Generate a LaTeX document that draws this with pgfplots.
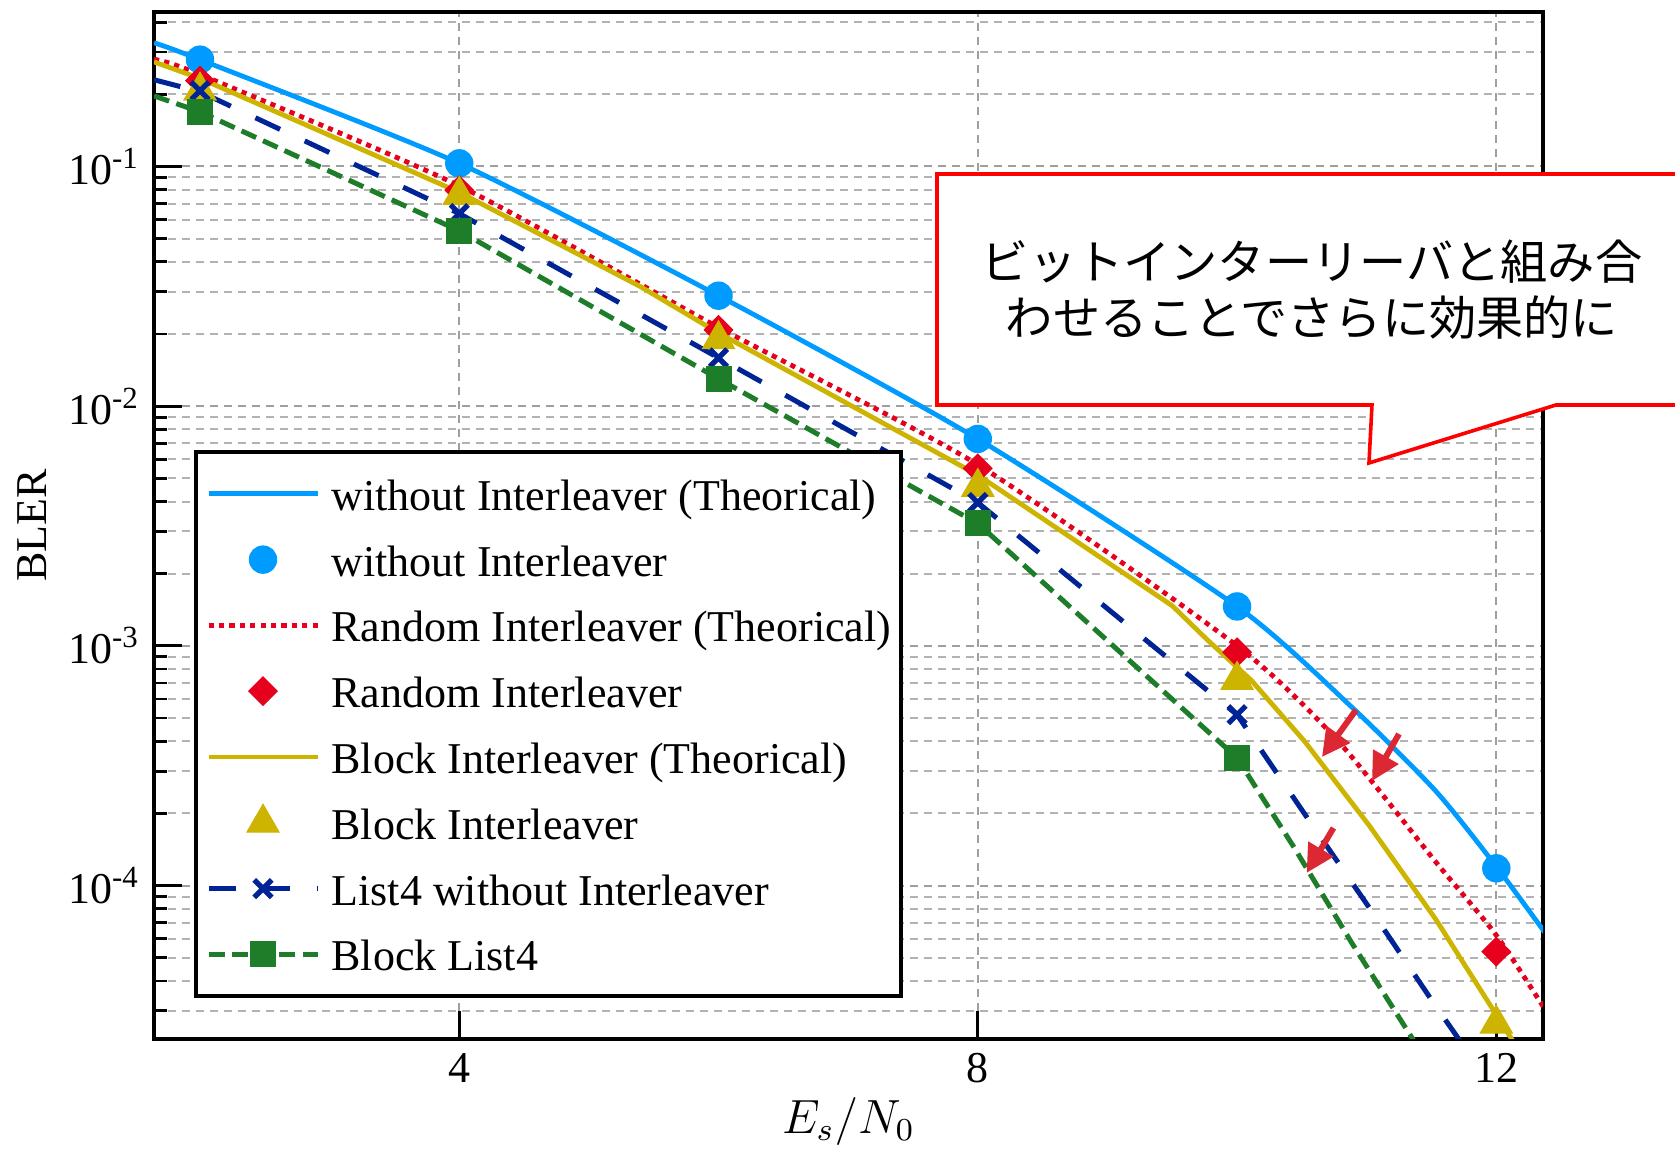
\documentclass[border=0pt]{standalone}
\usepackage{pgfplots}
\pgfplotsset{compat=1.18}
\usepackage{fontspec}
\setmainfont{Liberation Serif}
\newfontfamily\jpfont{Noto Sans CJK JP}
\usetikzlibrary{arrows.meta}

\definecolor{cblue}{RGB}{0,155,255}
\definecolor{cred}{RGB}{230,0,30}
\definecolor{cyel}{RGB}{205,180,0}
\definecolor{cnavy}{RGB}{0,35,150}
\definecolor{cgreen}{RGB}{30,125,40}
\definecolor{carrow}{RGB}{220,40,50}

\pgfplotsset{
  limg/.style={legend image code/.code={\draw[mark=none] (0pt,0pt) -- (27.25pt,0pt);}},
  mimg/.style={legend image code/.code={\draw plot coordinates {(13.625pt,0pt)};}},
}

\begin{document}
\begin{tikzpicture}
\begin{axis}[
  scale only axis, width=347.25pt, height=256.75pt,
  xmin=1.645, xmax=12.36,
  ymode=log, log basis y=10, ymin=2.29e-5, ymax=0.441,
  xtick={4,8,12},
  ytick={1e-4,1e-3,1e-2,1e-1},
  yticklabels={10\textsuperscript{-4},10\textsuperscript{-3},10\textsuperscript{-2},10\textsuperscript{-1}},
  minor ytick={3e-5,4e-5,5e-5,6e-5,7e-5,8e-5,9e-5,
    2e-4,3e-4,4e-4,5e-4,6e-4,7e-4,8e-4,9e-4,
    2e-3,3e-3,4e-3,5e-3,6e-3,7e-3,8e-3,9e-3,
    2e-2,3e-2,4e-2,5e-2,6e-2,7e-2,8e-2,9e-2,
    2e-1,3e-1,4e-1},
  grid=both,
  major grid style={gray!75, line width=0.5pt, dash pattern=on 2pt off 1.5pt},
  minor grid style={gray!60, line width=0.5pt, dash pattern=on 2pt off 1.5pt},
  tick align=inside, xtick pos=bottom, ytick pos=left,
  major tick length=7pt, minor tick length=3.3pt,
  every tick/.style={black, line width=0.7pt},
  axis line style={line width=1.1pt},
  tick label style={font=\fontsize{11}{13}\selectfont},
  /pgf/number format/assume math mode=true,
  xlabel={$E_s/N_0$},
  ylabel={BLER},
  xlabel style={at={(axis description cs:0.5,-0.0804)}, anchor=center, font=\fontsize{12}{14}\selectfont},
  ylabel style={at={(axis description cs:-0.0878,0.5)}, anchor=center, font=\fontsize{11}{13}\selectfont},
  legend style={at={(axis description cs:0.0291,0.0395)}, anchor=south west,
    draw=black, line width=1pt, fill=white,
    font=\fontsize{11}{13}\selectfont,
    inner xsep=2.4pt, inner ysep=4pt, row sep=3.45pt, column sep=2.9pt,
    nodes={inner sep=0pt, text height=10.6pt, text depth=2.4pt}},
  legend cell align=left,
]
\coordinate (O) at (rel axis cs:0,0);

% without Interleaver (Theorical)
\addplot[cblue, line width=1.2pt, smooth, tension=0.4, limg] coordinates {
 (1.645,0.328) (2,0.279) (4,0.103) (6,0.0289) (8,0.0073)
 (10,0.00146) (10.885,5.55e-4) (11.535,2.47e-4) (12,1.2e-4) (12.4,6.1e-5)};
\addlegendentry{without Interleaver (Theorical)}
% without Interleaver
\addplot[only marks, mark=*, mark size=3.4pt, color=cblue, mark options={line width=0.3pt}, mimg] coordinates {
 (2,0.279) (4,0.103) (6,0.0289) (8,0.0073) (10,0.00146) (12,1.18e-4)};
\addlegendentry{without Interleaver}
% Random Interleaver (Theorical)
\addplot[cred, line width=1.2pt, dash pattern=on 1.3pt off 1.3pt, smooth, tension=0.4, limg] coordinates {
 (1.645,0.280) (2,0.242) (4,0.083) (6,0.0213) (8,0.0057)
 (10,0.00100) (10.78,4.0e-4) (11.535,1.25e-4) (12,6.2e-5) (12.4,2.9e-5)};
\addlegendentry{Random Interleaver (Theorical)}
% Random Interleaver
\addplot[only marks, mark=square*, mark size=2.5pt, color=cred, mark options={rotate=45, line width=0.3pt}, mimg] coordinates {
 (2,0.228) (4,0.0797) (6,0.0208) (8,0.0055) (10,9.4e-4) (12,5.3e-5)};
\addlegendentry{Random Interleaver}
% Block Interleaver (Theorical)
\addplot[cyel, line width=1.2pt, limg] coordinates {
 (1.645,0.273) (2,0.233) (4,0.078) (5.394,0.0316) (6,0.0202) (8,0.00516)
 (9.5,1.47e-3) (9.77,1.06e-3) (10.11,7.18e-4) (10.52,4.0e-4) (11.016,1.79e-4) (11.535,7.2e-5) (12.2,1.95e-5)};
\addlegendentry{Block Interleaver (Theorical)}
% Block Interleaver
\addplot[only marks, mark=triangle*, mark size=4.6pt, color=cyel, mark options={line width=0.3pt}, mimg] coordinates {
 (2,0.207) (4,0.076) (6,0.019) (8,0.0046) (10,7.2e-4) (12,2.65e-5)};
\addlegendentry{Block Interleaver}
% List4 line
\addplot[cnavy, line width=1.25pt, dash pattern=on 6.8pt off 6.8pt, forget plot] coordinates {
 (1.645,0.23) (2,0.205) (4,0.0636) (6,0.0159) (8,0.00396) (10,5.16e-4)
 (10.51,2.03e-4) (11.054,7.6e-5) (11.529,3.16e-5) (11.8,1.95e-5)};
\addplot[only marks, mark=x, mark size=3.1pt, color=cnavy, mark options={line width=1.3pt, solid},
  legend image code/.code={
   \draw[mark=none, cnavy, line width=1.25pt, dash pattern=on 6.8pt off 6.8pt] (0pt,0pt) -- (27.25pt,0pt);
   \draw plot coordinates {(13.625pt,0pt)};}] coordinates {
 (2,0.207) (4,0.0636) (6,0.0159) (8,0.00396) (10,5.16e-4)};
\addlegendentry{List4 without Interleaver}
% Block List4 line
\addplot[cgreen, line width=1.25pt, dash pattern=on 4pt off 1.9pt, forget plot] coordinates {
 (1.645,0.197) (2,0.169) (4,0.0539) (6,0.0130) (8,0.00324) (10,3.41e-4)
 (10.444,1.43e-4) (10.886,5.75e-5) (11.45,1.9e-5)};
\addplot[only marks, mark=square*, mark size=3.1pt, color=cgreen, mark options={line width=0.3pt, solid},
  legend image code/.code={
   \draw[mark=none, cgreen, line width=1.25pt, dash pattern=on 4pt off 1.9pt] (0pt,0pt) -- (27.25pt,0pt);
   \draw plot coordinates {(13.625pt,0pt)};}] coordinates {
 (2,0.169) (4,0.0539) (6,0.0130) (8,0.00324) (10,3.41e-4)};
\addlegendentry{Block List4}
\end{axis}

\begin{scope}[shift={(O)}, x=0.25pt, y=0.25pt]
  \draw[red, line width=0.9pt, fill=white]
    (783,865) -- (1546,865) -- (1546,634) -- (1402,634) -- (1215,576) -- (1218,634) -- (783,634) -- cycle;
  \node[font=\jpfont\fontsize{11.8}{14}\selectfont, inner sep=0pt] at (1158,777) {ビットインターリーバと組み合};
  \node[font=\jpfont\fontsize{11.8}{14}\selectfont, inner sep=0pt] at (1158,721) {わせることでさらに効果的に};
  \draw[carrow, line width=1.5pt, -{Triangle[length=7pt,width=7pt]}] (1202,329) -- (1168,282);
  \draw[carrow, line width=1.5pt, -{Triangle[length=7pt,width=7pt]}] (1245,305) -- (1218,258);
  \draw[carrow, line width=1.5pt, -{Triangle[length=7pt,width=7pt]}] (1179.5,211) -- (1152.6,166);
  \pgfresetboundingbox
  \path[use as bounding box] (-154,-112) rectangle (1521,1039);
\end{scope}
\end{tikzpicture}
\end{document}
